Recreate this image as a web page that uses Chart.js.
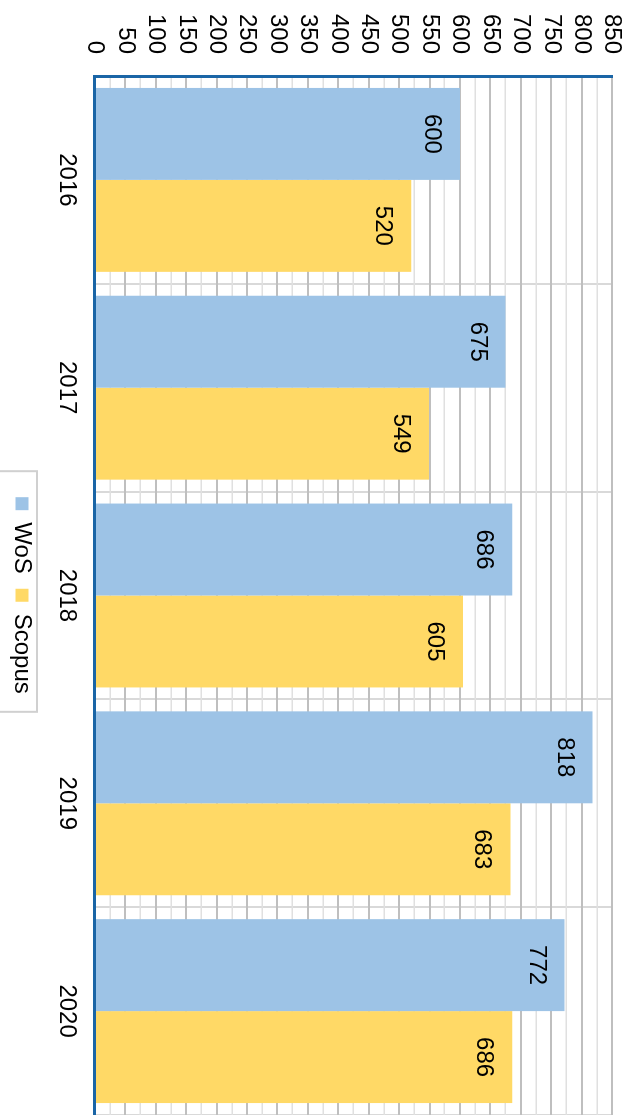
<!DOCTYPE html>
<html>
<head>
<meta charset="utf-8">
<script src="https://cdn.jsdelivr.net/npm/chart.js@4/dist/chart.umd.min.js"></script>
<style>
html, body { margin: 0; padding: 0; background: #fff; overflow: hidden; }
#wrap {
  position: absolute; left: 0; top: 0;
  width: 1115px; height: 640px;
  transform-origin: 0 0;
  transform: translate(640px, 0) rotate(90deg);
}
</style>
</head>
<body>
<div id="wrap"><canvas id="chart" width="1115" height="640"></canvas></div>
<script>
// data
var years = ['2016', '2017', '2018', '2019', '2020'];
var wosValues = [600, 675, 686, 818, 772];
var scopusValues = [520, 549, 605, 683, 686];
var seriesNames = ['WoS', 'Scopus'];
var axisMax = 850;

var FONT = '"Liberation Sans", Arial, sans-serif';
Chart.defaults.font.family = FONT;
Chart.defaults.font.size = 24;
Chart.defaults.color = '#000';

// value written inside the end of each bar
var barLabels = {
  id: 'barLabels',
  afterDatasetsDraw: function(chart) {
    var ctx = chart.ctx;
    ctx.save();
    ctx.font = '24px ' + FONT;
    ctx.fillStyle = '#000';
    ctx.textAlign = 'center';
    ctx.textBaseline = 'alphabetic';
    chart.data.datasets.forEach(function(ds, i) {
      chart.getDatasetMeta(i).data.forEach(function(bar, j) {
        ctx.fillText(ds.data[j], bar.x, bar.y + 35);
      });
    });
    ctx.restore();
  }
};

// thin grey frame round the legend
var legendFrame = {
  id: 'legendFrame',
  afterDraw: function(chart) {
    var boxes = chart.legend && chart.legend.legendHitBoxes;
    if (!boxes || !boxes.length) return;
    var first = boxes[0], last = boxes[boxes.length - 1];
    var left = first.left - 26;
    var right = last.left + last.width + 18;
    var top = first.top + first.height / 2 - 15;
    var ctx = chart.ctx;
    ctx.save();
    ctx.strokeStyle = '#d0d0d0';
    ctx.lineWidth = 2;
    ctx.strokeRect(left, top, right - left, 80);
    ctx.restore();
  }
};

var ctx = document.getElementById('chart').getContext('2d');
new Chart(ctx, {
  type: 'bar',
  data: {
    labels: years,
    datasets: [
      { label: seriesNames[0], data: wosValues, backgroundColor: '#9dc3e6' },
      { label: seriesNames[1], data: scopusValues, backgroundColor: '#ffd966' }
    ]
  },
  options: {
    responsive: false,
    animation: false,
    categoryPercentage: 0.885,
    barPercentage: 1.0,
    layout: { padding: { top: 28, right: 0, left: 0, bottom: 0 } },
    plugins: {
      tooltip: { enabled: false },
      legend: {
        position: 'bottom',
        fullSize: false,
        labels: { boxWidth: 13, boxHeight: 13, padding: 15, font: { size: 24 }, color: '#000' }
      }
    },
    scales: {
      x: {
        grid: { offset: true, color: '#d9d9d9', lineWidth: 2, drawTicks: false },
        border: { color: '#1a65a6', width: 3 },
        ticks: { padding: 14, color: '#000' },
        afterFit: function(s) { s.height = 46; }
      },
      y: {
        min: 0,
        max: axisMax,
        grid: {
          drawTicks: false,
          color: function(c) { return c.tick && c.tick.value % 50 === 0 ? '#bfbfbf' : '#e0e0e0'; },
          lineWidth: function(c) { return c.tick && c.tick.value % 50 === 0 ? 2 : 1.5; }
        },
        border: { color: '#1a65a6', width: 3 },
        ticks: {
          stepSize: 25,
          autoSkip: false,
          padding: 22,
          color: '#000',
          callback: function(v) { return v % 50 === 0 ? v : ''; }
        },
        afterFit: function(s) { s.width = 76; s.paddingTop = 0; s.paddingBottom = 0; }
      }
    }
  },
  plugins: [barLabels, legendFrame]
});
</script>
</body>
</html>
